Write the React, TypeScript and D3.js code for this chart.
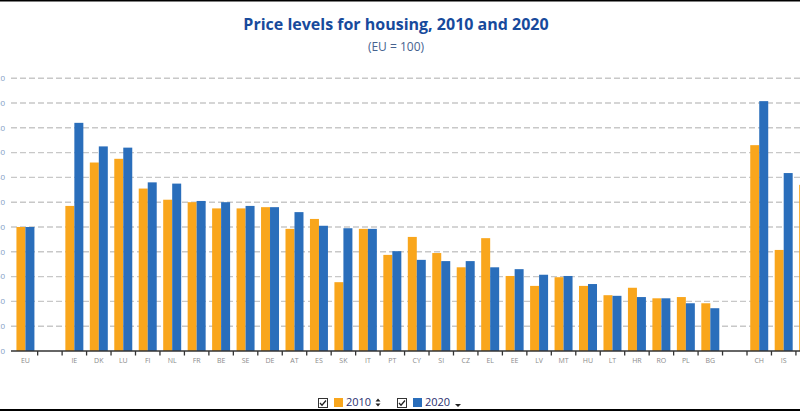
import React from "react";
import * as d3 from "d3";

const categories = ["EU", "", "IE", "DK", "LU", "FI", "NL", "FR", "BE", "SE", "DE", "AT", "ES", "SK", "IT", "PT", "CY", "SI", "CZ", "EL", "EE", "LV", "MT", "HU", "LT", "HR", "RO", "PL", "BG", "", "CH", "IS", "NO"];
const values2010 = [100, null, 117, 152, 155, 131, 122, 120, 115, 115, 116, 98.5, 106.5, 55.5, 98.5, 77.5, 92, 79, 67.5, 91, 60.5, 52.5, 59.5, 52.5, 45, 51, 42.5, 43.5, 38.5, null, 166, 81.5, 134];
const values2020 = [100, null, 184, 165, 164, 136, 135, 121, 120, 117, 116, 112, 101, 99, 98.5, 80.5, 73.5, 72.5, 72.5, 67.5, 66, 61.5, 60.5, 54, 44.5, 43.5, 42.5, 38.5, 34.5, null, 201.5, 143.5, 146];
const seriesNames = ["2010", "2020"];
const seriesColors = ["#f9a61c", "#2a6ebb"];
const yTicks = [0, 20, 40, 60, 80, 100, 120, 140, 160, 180, 200, 220];

export default function App() {
  const W = 800, H = 412;
  const keys = categories.map((c, i) => `${i}_${c}`);
  const step = 24.46;
  const x0 = d3.scaleBand<string>().domain(keys).range([13.2, 13.2 + step * keys.length]).paddingInner(0).paddingOuter(0);
  const x1 = d3.scaleBand<string>().domain(seriesNames).range([0, x0.bandwidth()]).paddingInner(0).paddingOuter(0.36);
  const y = d3.scaleLinear().domain([0, 220]).range([351, 78.2]);
  const series = [values2010, values2020];
  const font = "'Open Sans', 'DejaVu Sans', sans-serif";

  const checkbox = (x: number) => (
    <g transform={`translate(${x},398)`}>
      <rect x={0.5} y={0.5} width={9} height={9} fill="#fff" stroke="#333" strokeWidth={1} />
      <path d="M2,5 L4,7.2 L8,2.5" fill="none" stroke="#222" strokeWidth={1.3} />
    </g>
  );

  return (
    <svg width={W} height={H} style={{ position: "absolute", left: 0, top: 0, fontFamily: font }}>
      <rect x={0} y={0} width={W} height={H} fill="#fff" />
      <line x1={0} x2={W} y1={0.75} y2={0.75} stroke="#000" strokeWidth={1.5} />
      <line x1={0} x2={W} y1={410} y2={410} stroke="#000" strokeWidth={2} />
      <text x={396} y={29.5} textAnchor="middle" fontSize={16} fontWeight={700} fill="#174a9c">Price levels for housing, 2010 and 2020</text>
      <text x={396} y={51} textAnchor="middle" fontSize={12} fill="#46628f">(EU = 100)</text>
      {yTicks.map((t) => (
        <g key={t}>
          {t > 0 && (
            <line x1={11} x2={W} y1={y(t)} y2={y(t)} stroke="#c8c8c8" strokeWidth={1.4} strokeDasharray="6,3" />
          )}
          <text x={5} y={y(t)} dy="0.35em" textAnchor="end" fontSize={8} fill="#7f9cc4">{t}</text>
        </g>
      ))}
      {keys.map((k, i) => (
        <g key={k} transform={`translate(${x0(k)},0)`}>
          {series.map((s, j) => {
            const v = s[i];
            if (v == null) return null;
            return (
              <rect key={j} x={x1(seriesNames[j])} y={y(v)} width={x1.bandwidth()} height={y(0) - y(v)} fill={seriesColors[j]} />
            );
          })}
          <text x={x0.bandwidth() / 2} y={361} dy="0.35em" textAnchor="middle" fontSize={7} fill="#8a8a8a">{categories[i]}</text>
        </g>
      ))}
      <line x1={11} x2={W} y1={351} y2={351} stroke="#333" strokeWidth={1.5} />
      {keys.slice(1).map((k) => (
        <line key={k} x1={x0(k)} x2={x0(k)} y1={351} y2={355.5} stroke="#333" strokeWidth={1.3} />
      ))}
      {checkbox(318)}
      <rect x={334} y={398} width={9} height={9} fill={seriesColors[0]} />
      <text x={346} y={402.5} dy="0.35em" fontSize={11} fill="#2b2f6e">{seriesNames[0]}</text>
      <path d="M375.5,401.5 L378,398.5 L380.5,401.5 Z M375.5,403.5 L378,406.5 L380.5,403.5 Z" fill="#222" />
      {checkbox(397)}
      <rect x={413} y={398} width={9} height={9} fill={seriesColors[1]} />
      <text x={425} y={402.5} dy="0.35em" fontSize={11} fill="#2b2f6e">{seriesNames[1]}</text>
      <path d="M455,404 L458,407 L461,404 Z" fill="#222" />
    </svg>
  );
}
